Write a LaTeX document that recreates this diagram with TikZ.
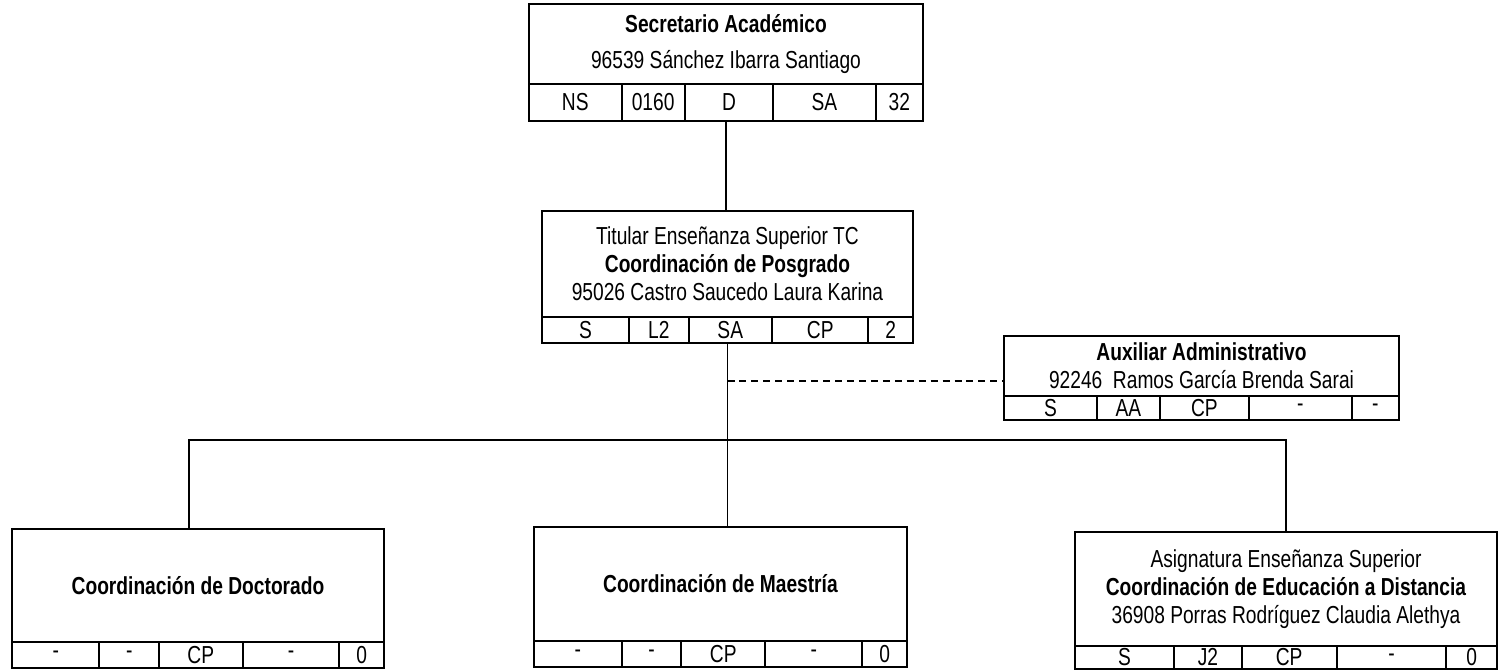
\documentclass[tikz,border=0pt]{standalone}
\usepackage{fontspec}
\setmainfont[FakeStretch=0.78]{Liberation Sans}
\usetikzlibrary{positioning,calc}

\tikzset{
  caja/.style={draw, line width=1.2pt, rectangle, align=center, inner sep=0pt, outer sep=0pt, font=\fontsize{14}{16}\selectfont},
  fila/.style={draw, line width=1.2pt, rectangle, inner sep=0pt, outer sep=0pt},
  celda/.style={inner sep=0pt, font=\fontsize{14}{16}\selectfont},
  divisor/.style={line width=1.1pt},
  linea/.style={line width=0.7pt},
  ramal/.style={line width=0.7pt, dash pattern=on 4pt off 2.8pt}
}

% renglon de cinco celdas bajo una caja
\newcommand{\celdas}[6]{%
  \foreach \f in {0.235,0.395,0.62,0.88}
    \draw[divisor] ($(#1.north west)!\f!(#1.north east)$) -- ($(#1.south west)!\f!(#1.south east)$);
  \foreach \m/\t [count=\i] in {0.1175/#2,0.315/#3,0.5075/#4,0.75/#5,0.94/#6}
    \node[celda] (#1-\i) at ($(#1.west)!\m!(#1.east)$) {\t};
}

\begin{document}
\begin{tikzpicture}[x=0.02cm,y=-0.02cm]
	\useasboundingbox (0,0) rectangle (1499,670);

	% secretario
	\node[caja, minimum width=7.88cm, minimum height=1.6cm] (sec) at (726,44) {\textbf{Secretario Académico}\\[5pt]96539 Sánchez Ibarra Santiago};
	\node[fila, minimum width=7.88cm, minimum height=0.74cm, below=0pt of sec] (secF) {};
	\celdas{secF}{NS}{0160}{D}{SA}{32}

	% posgrado
	\node[caja, minimum width=7.42cm, minimum height=2.12cm] (pos) at (727.5,264) {Titular Enseñanza Superior TC\\\textbf{Coordinación de Posgrado}\\95026 Castro Saucedo Laura Karina};
	\node[fila, minimum width=7.42cm, minimum height=0.52cm, below=0pt of pos] (posF) {};
	\celdas{posF}{S}{L2}{SA}{CP}{2}

	% auxiliar
	\node[caja, minimum width=7.9cm, minimum height=1.2cm] (aux) at (1201.5,366) {\textbf{Auxiliar Administrativo}\\92246~ Ramos García Brenda Sarai};
	\node[fila, minimum width=7.9cm, minimum height=0.48cm, below=0pt of aux] (auxF) {};
	\celdas{auxF}{S}{AA}{CP}{-}{-}

	% coordinaciones
	\node[caja, minimum width=7.44cm, minimum height=2.26cm] (doc) at (198,585.5) {\textbf{Coordinación de Doctorado}};
	\node[fila, minimum width=7.44cm, minimum height=0.52cm, below=0pt of doc] (docF) {};
	\celdas{docF}{-}{-}{CP}{-}{0}

	\node[caja, minimum width=7.46cm, minimum height=2.28cm] (mae) at (720.5,584) {\textbf{Coordinación de Maestría}};
	\node[fila, minimum width=7.46cm, minimum height=0.52cm, below=0pt of mae] (maeF) {};
	\celdas{maeF}{-}{-}{CP}{-}{0}

	\node[caja, minimum width=8.44cm, minimum height=2.28cm] (edu) at (1286,589) {Asignatura Enseñanza Superior\\\textbf{Coordinación de Educación a Distancia}\\36908 Porras Rodríguez Claudia Alethya};
	\node[fila, minimum width=8.44cm, minimum height=0.46cm, below=0pt of edu] (eduF) {};
	\celdas{eduF}{S}{J2}{CP}{-}{0}

	% lineas
	\coordinate (nivel) at (0,440);
	\coordinate (bus) at (posF.south |- nivel);
	\coordinate (enlace) at ($(aux.north west)!0.75!(aux.south west)$);
	\draw[linea] (secF.south) -- (secF.south |- pos.north);
	\draw[linea] (posF.south) -- (posF.south |- mae.north);
	\draw[linea] ([xshift=-0.18cm]doc.north) |- (bus) -| (edu.north);
	\draw[ramal] (posF.south |- enlace) -- (enlace);

\end{tikzpicture}
\end{document}
